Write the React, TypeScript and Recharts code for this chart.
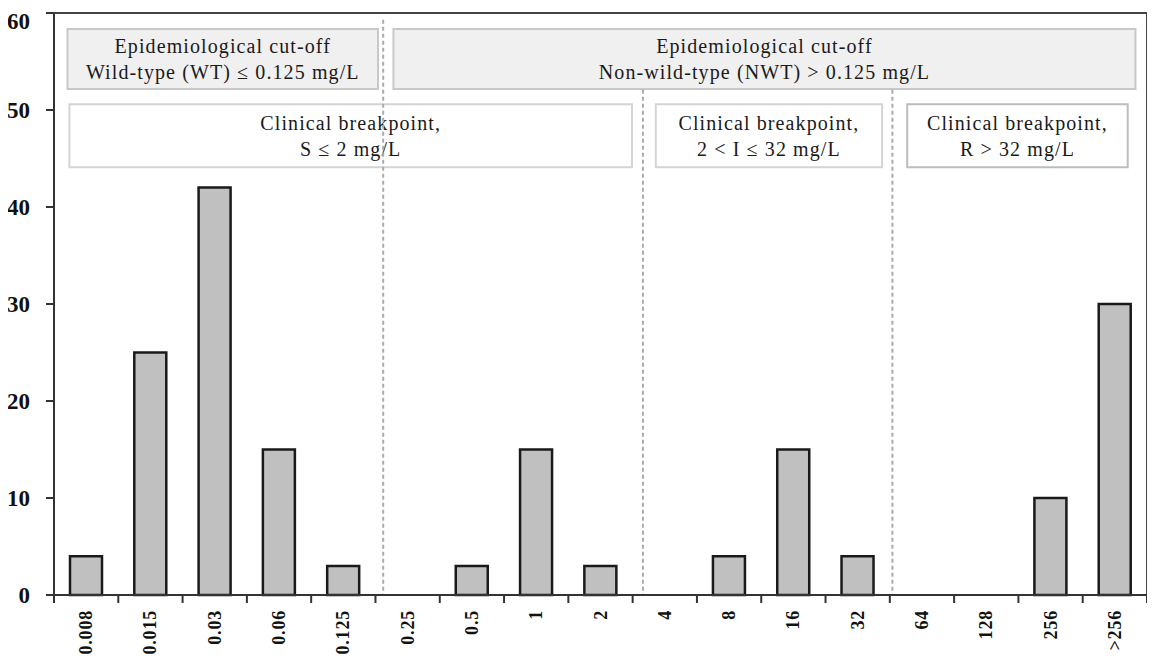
import React from "react";
import {
  Bar,
  BarChart,
  ReferenceArea,
  ReferenceLine,
  XAxis,
  YAxis,
} from "recharts";

const mics = [
  "0.008", "0.015", "0.03", "0.06", "0.125", "0.25", "0.5", "1", "2",
  "4", "8", "16", "32", "64", "128", "256", ">256",
];
const isolates = [4, 25, 42, 15, 3, 0, 3, 15, 3, 0, 4, 15, 4, 0, 0, 10, 30];
const yTicks = [0, 10, 20, 30, 40, 50, 60];

// annotation boxes, in slot / count units
const epiBoxes = [
  { x1: 0.21, x2: 5.04, lines: ["Epidemiological  cut-off", "Wild-type (WT) \u2264 0.125 mg/L"] },
  { x1: 5.28, x2: 16.82, lines: ["Epidemiological  cut-off", "Non-wild-type (NWT) > 0.125 mg/L"] },
];
const clinBoxes = [
  { x1: 0.24, x2: 8.99, lines: ["Clinical breakpoint,", "S \u2264 2 mg/L"], stroke: "#d4d4d4" },
  { x1: 9.36, x2: 12.88, lines: ["Clinical breakpoint,", "2 < I \u2264 32 mg/L"], stroke: "#d4d4d4" },
  { x1: 13.27, x2: 16.7, lines: ["Clinical breakpoint,", "R > 32 mg/L"], stroke: "#bdbdbd" },
];
const cutLines = [
  { x: 5.12, top: 59.3 },
  { x: 9.16, top: 52.1 },
  { x: 13.04, top: 52.1 },
];

const data = mics.map((mic, i) => ({ mic, n: isolates[i] }));

const serif = "'Liberation Serif', 'Times New Roman', serif";

const CHART_W = 1147;
const Y_W = 46;
const RIGHT = 8;
const BAND = (CHART_W - Y_W - RIGHT) / mics.length;

const boxText = (lines: string[]) => (props: any) => {
  const vb = props.viewBox || {};
  const cx = vb.x + vb.width / 2;
  const cy = vb.y + vb.height / 2;
  return (
    <text
      x={cx}
      y={cy}
      textAnchor="middle"
      fontFamily={serif}
      fontSize={20}
      letterSpacing={1.1}
      fill="#1a1a1a"
    >
      <tspan x={cx} dy={-6}>{lines[0]}</tspan>
      <tspan x={cx} dy={26}>{lines[1]}</tspan>
    </text>
  );
};

// label plus the tick mark on the left edge of each category slot
const MicTick = ({ x, y, payload, index }: any) => (
  <g>
    <line x1={x - BAND / 2} x2={x - BAND / 2} y1={y} y2={y + 8} stroke="#333" strokeWidth={2} />
    {index === mics.length - 1 && (
      <line x1={x + BAND / 2} x2={x + BAND / 2} y1={y} y2={y + 8} stroke="#333" strokeWidth={2} />
    )}
    <text
      transform={`translate(${x},${y + 15}) rotate(-90)`}
      textAnchor="end"
      dominantBaseline="central"
      fontFamily={serif}
      fontSize={18}
      fontWeight="bold"
      letterSpacing={0.8}
      fill="#111"
    >
      {payload.value}
    </text>
  </g>
);

export default function App() {
  return (
    <BarChart
      width={CHART_W}
      height={654}
      data={data}
      margin={{ top: 5, right: RIGHT, bottom: 0, left: 0 }}
      barSize={32}
    >
      <XAxis
        xAxisId="edge"
        type="number"
        dataKey="slot"
        domain={[0, 17]}
        allowDataOverflow
        height={0}
        hide
      />
      <XAxis
        xAxisId="mic"
        dataKey="mic"
        interval={0}
        tickSize={0}
        tickMargin={0}
        tickLine={false}
        tick={<MicTick />}
        height={67}
        stroke="#333"
        strokeWidth={2}
      />
      <YAxis
        domain={[0, 60]}
        ticks={yTicks}
        width={Y_W}
        tickSize={8}
        tickMargin={16}
        stroke="#333"
        strokeWidth={2}
        tick={{ fontFamily: serif, fontSize: 23, fontWeight: "bold", fill: "#111" }}
      />
      <ReferenceArea
        xAxisId="edge"
        x1={0}
        x2={17}
        y1={0}
        y2={60}
        fill="none"
        stroke="#444"
        strokeWidth={2}
        fillOpacity={0}
      />
      {cutLines.map((c) => (
        <ReferenceLine
          key={c.x}
          xAxisId="edge"
          segment={[{ x: c.x, y: c.top }, { x: c.x, y: 0 }]}
          stroke="#aaa"
          strokeWidth={2}
          strokeDasharray="4 3"
        />
      ))}
      {epiBoxes.map((b) => (
        <ReferenceArea
          key={b.x1}
          xAxisId="edge"
          x1={b.x1}
          x2={b.x2}
          y1={52.16}
          y2={58.35}
          fill="#f0f0f0"
          fillOpacity={1}
          stroke="#c8c8c8"
          strokeWidth={2}
          label={boxText(b.lines)}
        />
      ))}
      {clinBoxes.map((b) => (
        <ReferenceArea
          key={b.x1}
          xAxisId="edge"
          x1={b.x1}
          x2={b.x2}
          y1={44.1}
          y2={50.6}
          fill="#ffffff"
          fillOpacity={1}
          stroke={b.stroke}
          strokeWidth={2}
          label={boxText(b.lines)}
        />
      ))}
      <Bar
        xAxisId="mic"
        dataKey="n"
        fill="#c0c0c0"
        stroke="#1a1a1a"
        strokeWidth={2.5}
        isAnimationActive={false}
      />
    </BarChart>
  );
}
